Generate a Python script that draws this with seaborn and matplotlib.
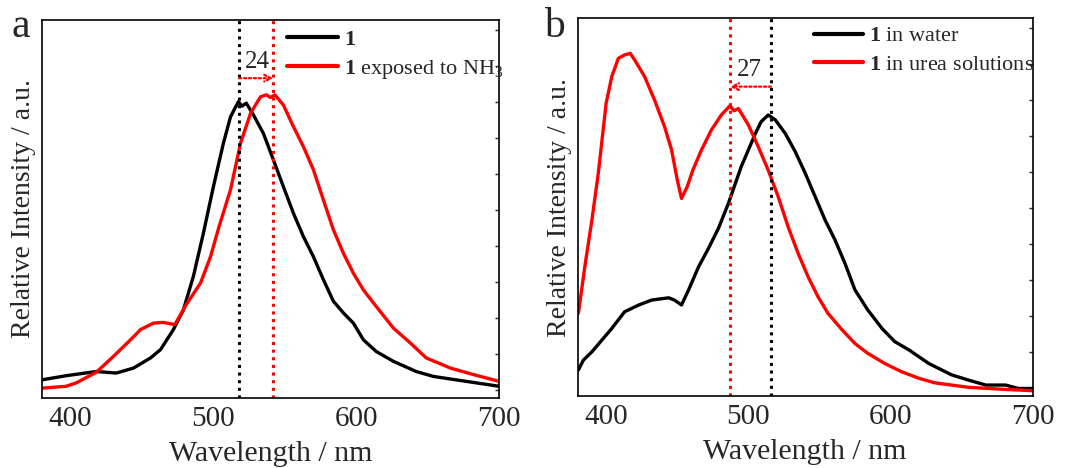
import numpy as np
import pandas as pd
import matplotlib
matplotlib.use("Agg")
import matplotlib.pyplot as plt
import seaborn as sns

# panel a: solid film vs. exposed to NH3
wl_a_black = [380, 397, 418, 432, 444, 456, 463, 472, 479, 486, 493, 500, 507, 512, 517.5, 520, 523,
              528, 535, 542, 549, 556, 563, 570, 577, 584, 591, 598, 605, 614, 626, 642, 654, 677, 700]
int_a_black = [0.048, 0.059, 0.070, 0.066, 0.079, 0.106, 0.128, 0.181, 0.233, 0.322, 0.436, 0.559,
               0.674, 0.744, 0.784, 0.772, 0.780, 0.749, 0.700, 0.630, 0.559, 0.489, 0.427, 0.374, 0.313,
               0.256, 0.225, 0.198, 0.154, 0.123, 0.097, 0.070, 0.057, 0.044, 0.031]
wl_a_red = [380, 397, 404, 418, 430, 442, 449, 458, 465, 473, 481, 491, 498, 504, 512, 519, 526,
            533, 537, 540, 543, 549, 556, 563, 570, 577, 584, 591, 598, 605, 614, 626, 638, 649, 666, 682, 700]
int_a_red = [0.026, 0.031, 0.040, 0.068, 0.110, 0.154, 0.181, 0.198, 0.200, 0.194, 0.247, 0.304,
             0.374, 0.454, 0.551, 0.674, 0.753, 0.797, 0.802, 0.795, 0.802, 0.775, 0.718, 0.665, 0.604,
             0.524, 0.445, 0.383, 0.330, 0.286, 0.242, 0.185, 0.145, 0.106, 0.079, 0.062, 0.044]

# panel b: in water vs. in urea solutions
wl_b_black = [380.5, 384, 390, 397, 404, 413, 423, 432, 444, 448, 453, 458, 465, 472, 479, 486, 495,
              500, 505, 509, 514, 519, 526, 533, 540, 547, 554, 561, 568, 575, 584, 594, 603, 613,
              627, 643, 655, 667, 681, 690, 700]
int_b_black = [0.069, 0.095, 0.117, 0.148, 0.179, 0.223, 0.241, 0.254, 0.260, 0.254, 0.241, 0.281,
               0.342, 0.391, 0.444, 0.510, 0.607, 0.651, 0.695, 0.726, 0.744, 0.731, 0.695, 0.647,
               0.590, 0.528, 0.466, 0.413, 0.351, 0.281, 0.228, 0.179, 0.144, 0.122, 0.086, 0.056,
               0.042, 0.029, 0.029, 0.020, 0.020]
wl_b_red = [380.5, 385, 390, 394.5, 400, 404, 408.6, 413, 417, 420, 427, 434, 441, 446, 450, 453, 457,
            461, 467, 474, 481, 487, 490, 493, 500, 507, 514, 521, 528, 535, 542, 549, 556, 566, 575, 584,
            596, 608, 620, 631, 655, 678, 700]
int_b_red = [0.219, 0.342, 0.466, 0.590, 0.775, 0.846, 0.894, 0.903, 0.907, 0.890, 0.846, 0.784,
             0.714, 0.652, 0.573, 0.523, 0.554, 0.598, 0.651, 0.704, 0.744, 0.768, 0.755, 0.761, 0.718,
             0.660, 0.598, 0.528, 0.448, 0.378, 0.316, 0.263, 0.219, 0.175, 0.139, 0.113, 0.086,
             0.064, 0.047, 0.035, 0.023, 0.018, 0.014]

peaks_a = [518, 542]
peaks_b = [516, 487]

sns.set_theme(style="ticks")
plt.rcParams['font.family'] = ['Liberation Serif', 'DejaVu Serif']
plt.rcParams['mathtext.fontset'] = 'custom'
plt.rcParams['mathtext.rm'] = 'Liberation Serif'
plt.rcParams['mathtext.it'] = 'Liberation Serif:italic'
plt.rcParams['mathtext.bf'] = 'Liberation Serif:bold'

df_a = pd.concat([
    pd.DataFrame({'wl': wl_a_black, 'I': int_a_black, 'series': 'black'}),
    pd.DataFrame({'wl': wl_a_red, 'I': int_a_red, 'series': 'red'}),
])
df_b = pd.concat([
    pd.DataFrame({'wl': wl_b_black, 'I': int_b_black, 'series': 'black'}),
    pd.DataFrame({'wl': wl_b_red, 'I': int_b_red, 'series': 'red'}),
])
pal = {'black': 'black', 'red': '#ff0000'}

fig = plt.figure(figsize=(10.71, 4.68), dpi=100)
ax1 = fig.add_axes([0.0392, 0.1496, 0.4268, 0.8077])
ax2 = fig.add_axes([0.5394, 0.1538, 0.4248, 0.8072])


def style_axis(ax):
    ax.set_xlim(380, 700)
    ax.set_ylim(0, 1)
    ax.set_xticks([400, 500, 600, 700])
    ax.tick_params(axis='x', labelsize=21, direction='in', length=0, pad=6)
    ax.set_yticks(np.arange(0.022, 1.0, 0.0952))
    ax.tick_params(axis='y', left=False, right=True, labelleft=False, direction='in',
                   length=3, width=1)
    for s in ax.spines.values():
        s.set_linewidth(1.2)
        s.set_color('black')
    ax.set_xlabel('Wavelength / nm', fontsize=21.5, labelpad=6)
    ax.set_ylabel('Relative Intensity / a.u.', fontsize=20, labelpad=4)


def arrow(ax, x0, x1, y):
    ax.annotate('', xy=(x1, y), xytext=(x0, y),
                arrowprops=dict(arrowstyle='->', color='#ff0000', ls=(0, (1, 1.2)), lw=1.6,
                                shrinkA=0, shrinkB=0))


# panel a
sns.lineplot(data=df_a, x='wl', y='I', hue='series', palette=pal, ax=ax1,
             linewidth=2.4, legend=False, sort=True)
ax1.axvline(peaks_a[0], color='black', ls=(0, (1, 1.5)), lw=2.2)
ax1.axvline(peaks_a[1], color='#ff0000', ls=(0, (1, 1.5)), lw=2.2)
arrow(ax1, peaks_a[0], peaks_a[1], 0.846)
ax1.text(531, 0.889, '24', fontsize=18, ha='center', va='center')
style_axis(ax1)
h1 = [plt.Line2D([], [], color='black', lw=3), plt.Line2D([], [], color='#ff0000', lw=3)]
ax1.legend(h1, [r'$\mathbf{1}$', r'$\mathbf{1}$ exposed to NH$_3$'], loc='upper left',
           frameon=False, fontsize=16, handlelength=2.3, handletextpad=0.25,
           borderpad=0, borderaxespad=0, labelspacing=0.35, bbox_to_anchor=(0.536, 0.975))
fig.text(0.011, 0.92, 'a', fontsize=30)

# panel b
sns.lineplot(data=df_b, x='wl', y='I', hue='series', palette=pal, ax=ax2,
             linewidth=2.4, legend=False, sort=True)
ax2.axvline(peaks_b[0], color='black', ls=(0, (1, 1.5)), lw=2.2)
ax2.axvline(peaks_b[1], color='#ff0000', ls=(0, (1, 1.5)), lw=2.2)
arrow(ax2, peaks_b[0], peaks_b[1], 0.819)
ax2.text(501, 0.862, '27', fontsize=18, ha='center', va='center')
style_axis(ax2)
h2 = [plt.Line2D([], [], color='black', lw=3), plt.Line2D([], [], color='#ff0000', lw=3)]
ax2.legend(h2, [r'$\mathbf{1}$ in water', r'$\mathbf{1}$ in urea solutions'], loc='upper left',
           frameon=False, fontsize=16, handlelength=2.2, handletextpad=0.25,
           borderpad=0, borderaxespad=0, labelspacing=0.35, bbox_to_anchor=(0.52, 0.98))
fig.text(0.508, 0.92, 'b', fontsize=30)

fig.savefig('out.png', dpi=100)
